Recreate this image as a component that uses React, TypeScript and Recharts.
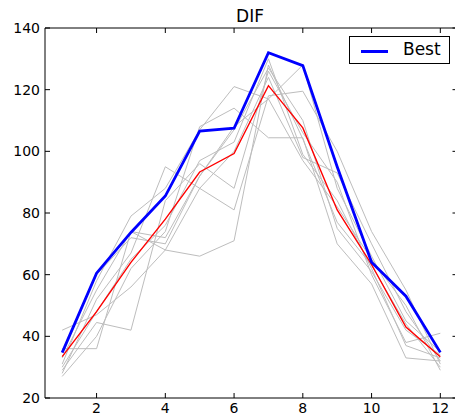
import { LineChart, Line, XAxis, YAxis, Legend } from "recharts";

const xs = [1, 2, 3, 4, 5, 6, 7, 8, 9, 10, 11, 12];
const xTicks = [2, 4, 6, 8, 10, 12];
const yTicks = [20, 40, 60, 80, 100, 120, 140];

// best individual run (blue) and the average (red)
const best = [34.7, 60.5, 73.7, 85.5, 106.6, 107.5, 132, 127.8, 95, 64, 53, 34.8];
const mean = [33.4, 48, 64, 78, 93.3, 99.3, 121.3, 107.6, 81, 63.3, 43, 33.4];

// the other runs (grey)
const run1 = [42, 47, 56, 68, 88, 100, 124, 98, 93, 70, 48, 32];
const run2 = [36, 36, 74, 68, 66, 71, 128, 104, 77, 63, 44, 30];
const run3 = [29, 44.5, 42, 84, 96, 88, 126, 106, 90, 60, 38, 41];
const run4 = [28, 52, 67, 95, 88, 81, 118, 119.5, 100, 74, 55, 31];
const run5 = [31, 58, 79, 88, 107, 121, 117, 97, 82, 65, 50, 29];
const run6 = [27, 40, 62, 74, 108, 114, 104.4, 104.4, 70, 57, 33, 32];
const run7 = [33, 55, 74, 72, 92, 108, 117, 128, 88, 66, 45, 35];
const run8 = [30, 48, 65, 76, 97, 103, 130, 99, 84, 62, 37, 33];
const run9 = [35, 60, 72, 70, 92, 107, 127, 110, 75, 61, 42, 34];
const runs = [run1, run2, run3, run4, run5, run6, run7, run8, run9];

const data = xs.map((x, i) => {
  const row: Record<string, number> = { x, best: best[i], mean: mean[i] };
  runs.forEach((r, j) => {
    row[`run${j}`] = r[i];
  });
  return row;
});

const font = "'DejaVu Sans', sans-serif";

const BestLegend = () => (
  <div
    style={{
      boxSizing: "border-box",
      width: 101,
      height: 28,
      border: "1px solid #000",
      background: "#fff",
      position: "relative",
      fontFamily: font,
    }}
  >
    <div
      style={{
        position: "absolute",
        left: 11,
        top: 13,
        width: 27,
        height: 3,
        background: "#0000ff",
      }}
    />
    <div
      style={{
        position: "absolute",
        left: 53,
        top: 4,
        fontSize: 17,
        lineHeight: "17px",
        color: "#000",
      }}
    >
      Best
    </div>
  </div>
);

export default function App() {
  return (
    <div
      style={{
        position: "absolute",
        left: 0,
        top: 0,
        width: 455,
        height: 417,
        overflow: "hidden",
        background: "#fff",
        fontFamily: font,
      }}
    >
      <div
        style={{
          position: "absolute",
          left: 0,
          width: 500,
          top: 8,
          textAlign: "center",
          fontSize: 17,
          lineHeight: "17px",
          color: "#000",
        }}
      >
        DIF
      </div>
      <LineChart
        width={460}
        height={417}
        data={data}
        margin={{ top: 27, right: 1.5, left: 0, bottom: 0 }}
      >
        <XAxis
          dataKey="x"
          type="number"
          domain={[0.5, 12.5]}
          ticks={xTicks}
          allowDataOverflow
          height={19}
          tickSize={-5}
          tickMargin={10}
          axisLine={{ stroke: "#000" }}
          tickLine={{ stroke: "#000" }}
          tick={{ fill: "#000", fontSize: 14, fontFamily: font }}
        />
        <XAxis
          xAxisId="top"
          dataKey="x"
          type="number"
          orientation="top"
          domain={[0.5, 12.5]}
          ticks={xTicks}
          allowDataOverflow
          height={1}
          tickSize={-5}
          axisLine={{ stroke: "#000" }}
          tickLine={{ stroke: "#000" }}
          tick={() => <g />}
        />
        <YAxis
          type="number"
          domain={[20, 140]}
          ticks={yTicks}
          allowDataOverflow
          width={45}
          tickSize={-5}
          tickMargin={10}
          axisLine={{ stroke: "#000" }}
          tickLine={{ stroke: "#000" }}
          tick={{ fill: "#000", fontSize: 14, fontFamily: font }}
        />
        <YAxis
          yAxisId="right"
          type="number"
          orientation="right"
          domain={[20, 140]}
          ticks={yTicks}
          allowDataOverflow
          width={1}
          tickSize={-5}
          axisLine={{ stroke: "#000" }}
          tickLine={{ stroke: "#000" }}
          tick={() => <g />}
        />
        {runs.map((_, j) => (
          <Line
            key={j}
            dataKey={`run${j}`}
            stroke="#bdbdbd"
            strokeWidth={1}
            dot={false}
            isAnimationActive={false}
            legendType="none"
          />
        ))}
        <Line
          dataKey="mean"
          stroke="#ff0000"
          strokeWidth={1.4}
          dot={false}
          isAnimationActive={false}
          legendType="none"
        />
        <Line
          dataKey="best"
          name="Best"
          stroke="#0000ff"
          strokeWidth={2.8}
          dot={false}
          isAnimationActive={false}
        />
        <Legend
          layout="vertical"
          align="center"
          verticalAlign="middle"
          content={<BestLegend />}
          wrapperStyle={{ left: 349, top: 36, width: 101, height: 28 }}
        />
      </LineChart>
    </div>
  );
}
